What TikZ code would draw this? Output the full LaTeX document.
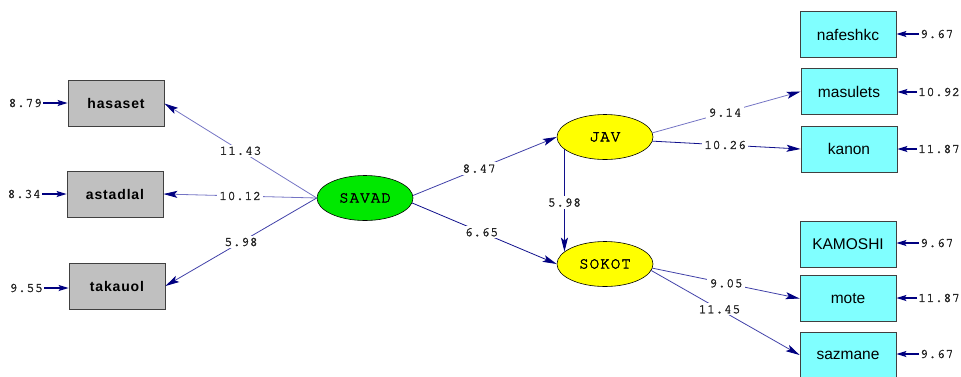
\documentclass[tikz,border=0pt]{standalone}
\usepackage{fontspec}
\setmainfont{Liberation Sans}
\newfontfamily\numfont[LetterSpace=5,FakeBold=2.2]{texgyrecursor-regular.otf}
\newfontfamily\latfont[LetterSpace=6,FakeBold=2.2]{texgyrecursor-regular.otf}
\newfontfamily\obsfont[LetterSpace=6]{Liberation Sans}
\usetikzlibrary{arrows.meta,shapes.geometric}
\definecolor{tipblue}{HTML}{000080}
\definecolor{pathlight}{HTML}{7474C4}
\definecolor{pathmid}{HTML}{4040A8}
\definecolor{pathdark}{HTML}{10108C}
\definecolor{boxgray}{HTML}{C0C0C0}
\definecolor{boxcyan}{HTML}{80FFFF}
\definecolor{latgreen}{HTML}{00E800}
\definecolor{latyellow}{HTML}{FFFF00}
\tikzset{
  xbox/.style={draw=black!75, line width=0.8pt, fill=boxgray, minimum width=96pt,
    minimum height=46pt, inner sep=0pt, font=\obsfont\bfseries\fontsize{14}{16}\selectfont},
  ybox/.style={draw=black!75, line width=0.8pt, fill=boxcyan, minimum width=96pt,
    minimum height=46pt, inner sep=0pt, font=\fontsize{15.5}{18}\selectfont},
  latent/.style={ellipse, draw=black, line width=0.6pt, minimum width=96pt,
    minimum height=45pt, inner sep=0pt, font=\latfont\fontsize{16}{18}\selectfont},
  errlab/.style={inner sep=1pt, font=\numfont\fontsize{13}{15}\selectfont, text=black!85},
  errarrow/.style={draw=tipblue, line width=1.3pt, -{Stealth[length=10pt,width=6pt,inset=2pt]}},
  path/.style={line width=0.8pt, -{Stealth[length=14pt,width=7pt,inset=3pt,color=tipblue]}},
  coef/.style={fill=white, inner sep=2pt, font=\numfont\fontsize{13}{15}\selectfont, text=black!85}
}
\begin{document}
\begin{tikzpicture}[x=1pt,y=-1pt]
\useasboundingbox (0,0) rectangle (961,376);

% observed indicators of SAVAD
\node[xbox] (hasaset)  at (116,103.5) {hasaset};
\node[xbox] (astadlal) at (115,194)   {astadlal};
\node[xbox] (takauol)  at (117,286)   {takauol};

% latent variables
\node[latent, fill=latgreen]  (savad) at (365,198) {SAVAD};
\node[latent, fill=latyellow] (jav)   at (605,137) {JAV};
\node[latent, fill=latyellow] (sokot) at (605,264) {SOKOT};

% observed indicators of JAV and SOKOT
\node[ybox] (nafeshkc) at (848,34.5)  {nafeshkc};
\node[ybox] (masulets) at (849,91.5)  {masulets};
\node[ybox] (kanon)    at (849,149)   {kanon};
\node[ybox] (kamoshi)  at (848,244)   {KAMOSHI};
\node[ybox] (mote)     at (848,298.5) {mote};
\node[ybox] (sazmane)  at (848,355)   {sazmane};

% error variances, left side
\node[errlab, anchor=east] (e1) at (43,103) {8.79};
\node[errlab, anchor=east] (e2) at (42,194) {8.34};
\node[errlab, anchor=east] (e3) at (44,288) {9.55};
\draw[errarrow] (e1.east) -- (e1.east -| hasaset.west);
\draw[errarrow] (e2.east) -- (e2.east -| astadlal.west);
\draw[errarrow] (e3.east) -- (e3.east -| takauol.west);

% error variances, right side
\node[errlab, anchor=west] (e4) at (919,34)  {9.67};
\node[errlab, anchor=west] (e5) at (917,92)  {10.92};
\node[errlab, anchor=west] (e6) at (917,149) {11.87};
\node[errlab, anchor=west] (e7) at (919,243) {9.67};
\node[errlab, anchor=west] (e8) at (917,298) {11.87};
\node[errlab, anchor=west] (e9) at (919,354) {9.67};
\draw[errarrow] (e4.west) -- (e4.west -| nafeshkc.east);
\draw[errarrow] (e5.west) -- (e5.west -| masulets.east);
\draw[errarrow] (e6.west) -- (e6.west -| kanon.east);
\draw[errarrow] (e7.west) -- (e7.west -| kamoshi.east);
\draw[errarrow] (e8.west) -- (e8.west -| mote.east);
\draw[errarrow] (e9.west) -- (e9.west -| sazmane.east);

% SAVAD loadings
\draw[path, pathlight] (savad.west) -- node[coef, pos=0.5] {11.43} (hasaset.east);
\draw[path, pathlight] (savad.west) -- node[coef, pos=0.5] {10.12} (astadlal.east);
\draw[path, pathmid]   (savad.west) -- node[coef, pos=0.5] {5.98}  (takauol.east);

% structural paths
\draw[path, pathmid]  (savad.3)  -- node[coef, pos=0.46] {8.47} (jav.west);
\draw[path, pathdark] (savad.-6) -- node[coef, pos=0.48] {6.65} (sokot.west);
\draw[path, pathdark] (jav.197)  -- node[coef, pos=0.52] {5.98} (sokot.163);

% JAV and SOKOT loadings
\draw[path, pathlight] (jav.5)    -- node[coef, pos=0.49] {9.14}  (masulets.west);
\draw[path, pathdark]  (jav.-5)   -- node[coef, pos=0.49] {10.26} (kanon.west);
\draw[path, pathmid]   (sokot.-5) -- node[coef, pos=0.5]  {9.05}  (mote.west);
\draw[path, pathmid]   (sokot.-8) -- node[coef, pos=0.46] {11.45} (sazmane.west);
\end{tikzpicture}
\end{document}
